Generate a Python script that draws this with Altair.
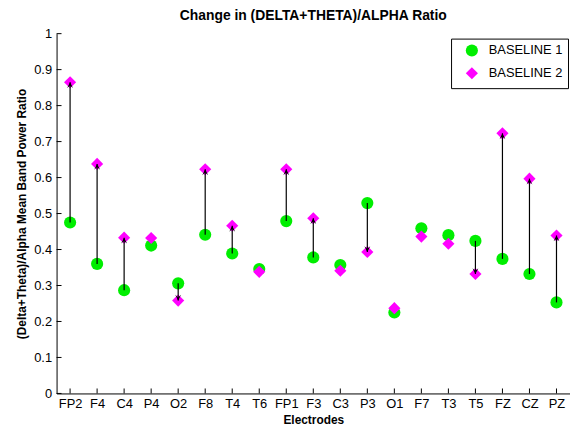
import altair as alt
import pandas as pd

electrodes = ["FP2", "F4", "C4", "P4", "O2", "F8", "T4", "T6", "FP1", "F3",
              "C3", "P3", "O1", "F7", "T3", "T5", "FZ", "CZ", "PZ"]
baseline1 = [0.475, 0.360, 0.287, 0.411, 0.306, 0.441, 0.389, 0.346, 0.479, 0.378,
             0.357, 0.529, 0.225, 0.459, 0.440, 0.424, 0.374, 0.332, 0.253]
baseline2 = [0.865, 0.638, 0.433, 0.432, 0.258, 0.623, 0.466, 0.338, 0.623, 0.487,
             0.341, 0.393, 0.237, 0.436, 0.416, 0.332, 0.723, 0.597, 0.439]
series = ["BASELINE 1", "BASELINE 2"]
yticks = [0, 0.1, 0.2, 0.3, 0.4, 0.5, 0.6, 0.7, 0.8, 0.9, 1]

W, H = 518, 363

long_rows = []
for s, vals in zip(series, [baseline1, baseline2]):
    for e, v in zip(electrodes, vals):
        long_rows.append({"electrode": e, "series": s, "value": v})
long_df = pd.DataFrame(long_rows)

arrow_df = pd.DataFrame({"electrode": electrodes, "b1": baseline1, "b2": baseline2})
tick_df = pd.DataFrame({"t": yticks})

xs = alt.Scale(type="point", padding=0.5, domain=electrodes)
ys = alt.Scale(domain=[0, 1], nice=False, zero=False)
FONT = "Liberation Sans"

x_axis = alt.Axis(title="Electrodes", labelAngle=0, tickSize=0, labelPadding=4,
                  titlePadding=4, labelFontSize=13, titleFontSize=12,
                  titleFontWeight="bold", labelColor="black", titleColor="black",
                  domainColor="black", labelFont=FONT, titleFont=FONT, grid=False,
                  labelOverlap=False, labelBaseline="top", labelAlign="center")
y_axis = alt.Axis(title="(Delta+Theta)/Alpha Mean Band Power Ratio",
                  values=yticks, format="~g", tickSize=0, labelPadding=5,
                  titlePadding=5, labelFontSize=13, titleFontSize=12,
                  titleFontWeight="bold", labelColor="black", titleColor="black",
                  domainColor="black", labelFont=FONT, titleFont=FONT, grid=False,
                  labelOverlap=False)


def X():
    return alt.X("electrode:N", scale=xs, sort=electrodes, axis=x_axis)


def Y(field):
    return alt.Y(field, scale=ys, axis=y_axis)


points = alt.Chart(long_df).mark_point(filled=True, opacity=1, size=150).encode(
    x=X(),
    y=Y("value:Q"),
    color=alt.Color("series:N", scale=alt.Scale(domain=series, range=["#00ee00", "#ff00ff"]),
                    legend=alt.Legend(title=None, orient="none", legendX=398, legendY=5,
                                      strokeColor="black", fillColor="white", padding=5,
                                      labelFontSize=13, labelFont=FONT, labelColor="black",
                                      symbolSize=150, rowPadding=3, labelOffset=10,
                                      symbolOffset=9, symbolOpacity=1)),
    shape=alt.Shape("series:N", scale=alt.Scale(domain=series, range=["circle", "diamond"])),
)

arrows_base = alt.Chart(arrow_df).transform_filter(
    "abs(datum.b2 - datum.b1) > 0.03"
).transform_calculate(ang="datum.b2 > datum.b1 ? 0 : 180")

shafts = arrows_base.mark_rule(color="black", strokeWidth=1.2).encode(
    x=X(),
    y=Y("b1:Q"),
    y2="b2:Q",
)

heads = arrows_base.mark_point(
    shape="M0,0L-0.5,1L0,0.55L0.5,1Z", filled=True, color="black", opacity=1, size=140
).encode(
    x=X(),
    y=Y("b2:Q"),
    angle=alt.Angle("ang:Q", scale=None),
)

ytick_marks = alt.Chart(tick_df).mark_rule(color="black").encode(
    y=Y("t:Q"), x=alt.value(0), x2=alt.value(5)
)
xtick_marks = alt.Chart(arrow_df).mark_rule(color="black").encode(
    x=X(), y=alt.value(H), y2=alt.value(H - 5)
)

chart = alt.layer(points, ytick_marks, xtick_marks, shafts, heads).properties(
    width=W, height=H,
    title=alt.Title("Change in (DELTA+THETA)/ALPHA Ratio", fontSize=14, fontWeight="bold",
                    font=FONT, color="black", offset=5),
    autosize=alt.AutoSizeParams(type="none"),
    padding={"left": 49, "top": 24, "right": 0, "bottom": 34},
).configure_view(stroke=None).configure_axis(domainWidth=1)

chart.save("out.html", embed_options={"renderer": "svg", "actions": False})
